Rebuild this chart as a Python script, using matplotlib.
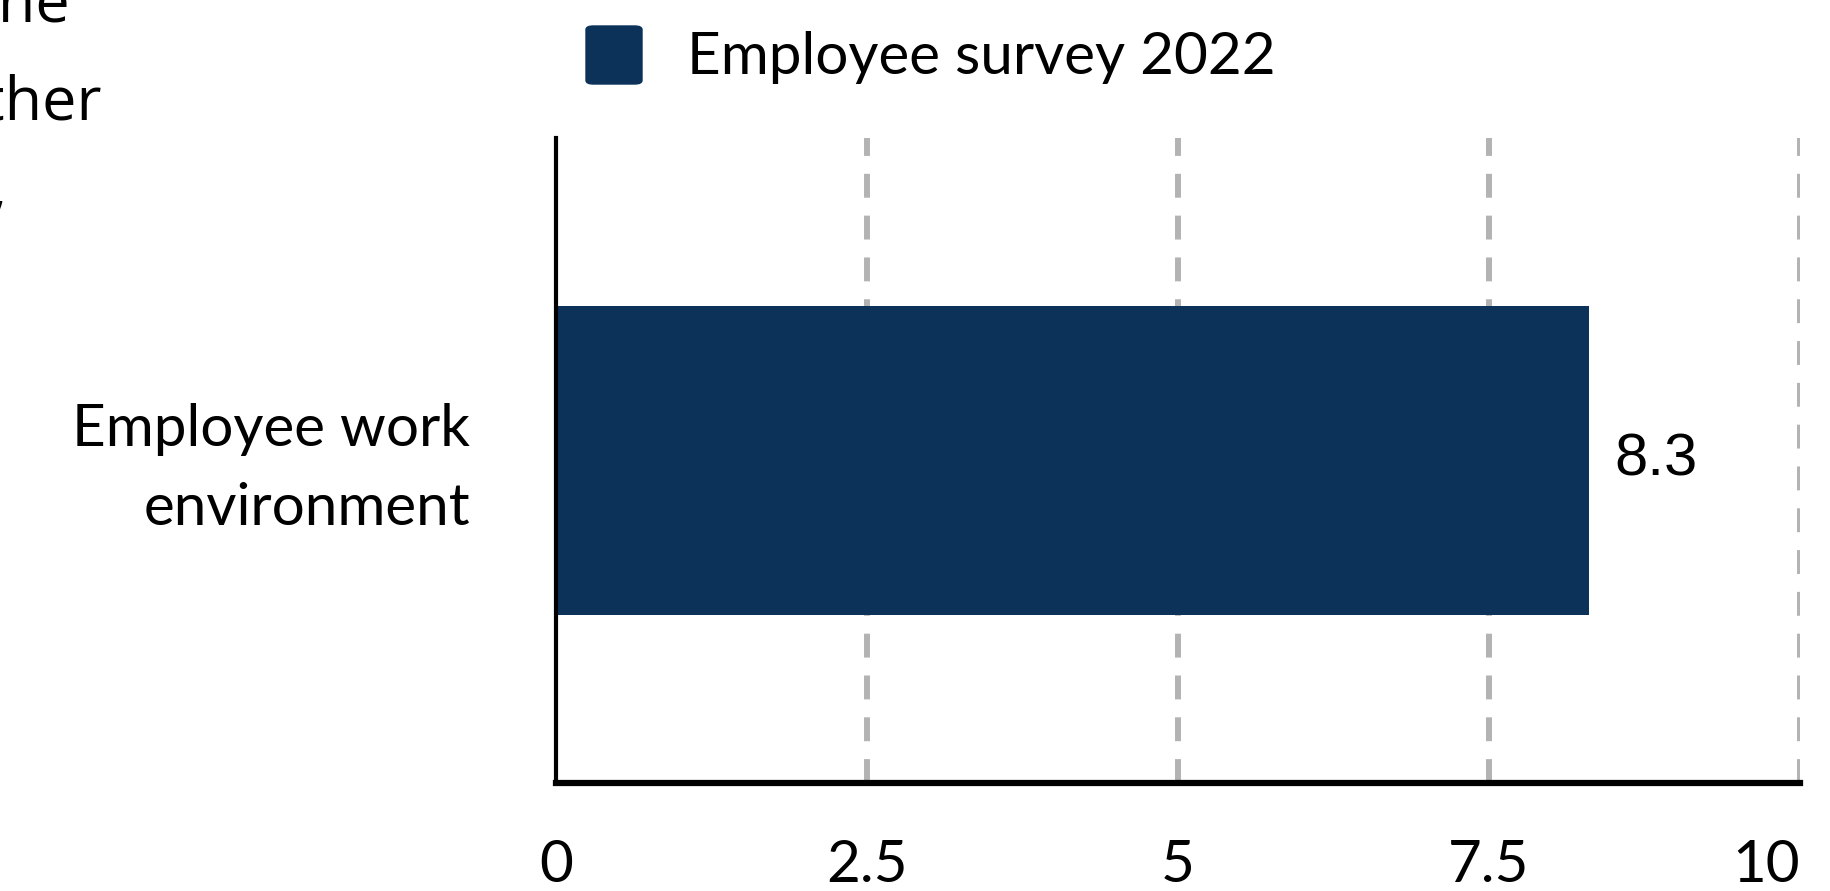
import matplotlib.pyplot as plt
from matplotlib.patches import FancyBboxPatch
from matplotlib.transforms import ScaledTranslation

# Survey score data
categories = ["Employee work\nenvironment"]
scores = [8.3]
series_name = "Employee survey 2022"
xticks = [0, 2.5, 5, 7.5, 10]
xtick_labels = ["0", "2.5", "5", "7.5", "10"]

bar_color = "#0c325a"
grid_color = "#b3b3b3"

fig = plt.figure(figsize=(18.31, 8.91), dpi=100)
W, H = 1831, 891
ax = fig.add_axes([556 / W, 1 - 783 / H, (1800 - 556) / W, (783 - 138) / H])

ax.barh([0], scores, height=0.48, color=bar_color, zorder=3)
ax.set_xlim(0, 10)
ax.set_ylim(-0.5, 0.5)

# dashed vertical grid
for x in xticks[1:]:
    ax.axvline(x, color=grid_color, lw=4.3, ls=(0, (4, 3)), zorder=1)

for side in ["top", "right"]:
    ax.spines[side].set_visible(False)
ax.spines["left"].set_linewidth(3)
ax.spines["bottom"].set_linewidth(4.5)
ax.spines["left"].set_zorder(4)

ax.set_yticks([0])
ax.set_yticklabels(categories, fontsize=42, fontfamily="Lato", linespacing=1.62)
ax.tick_params(axis="y", length=0, pad=62)
ax.set_xticks(xticks)
ax.set_xticklabels(xtick_labels, fontsize=42, fontfamily="Lato")
ax.tick_params(axis="x", length=0, pad=40)
ax.get_xticklabels()[-1].set_horizontalalignment("right")
lift = ScaledTranslation(0, 7 / 72, fig.dpi_scale_trans)
for lbl in ax.get_yticklabels():
    lbl.set_horizontalalignment("right")
    lbl.set_transform(lbl.get_transform() + lift)

# value label
for i, v in enumerate(scores):
    ax.text(v + 0.21, i, f"{v}", va="center", ha="left", fontsize=43,
            fontfamily="Liberation Sans")

# legend swatch and label
fig.patches.append(FancyBboxPatch((586 / W, 1 - 84 / H), 56 / W, 58 / H,
                                  boxstyle="round,pad=0,rounding_size=0.004",
                                  transform=fig.transFigure, color=bar_color))
fig.text(687 / W, 1 - 58 / H, series_name, fontsize=42, fontfamily="Lato",
         va="center", ha="left")

# paragraph text running off the left edge
side_text = ["the", "other", "survey,"]
side_right = [70, 102, 8]
side_base = [22, 120, 208]
for t, xr, yb in zip(side_text, side_right, side_base):
    fig.text(xr / W, 1 - yb / H, t, fontsize=44, fontfamily="Open Sans",
             ha="right", va="baseline")

fig.savefig("out.png", dpi=100)
